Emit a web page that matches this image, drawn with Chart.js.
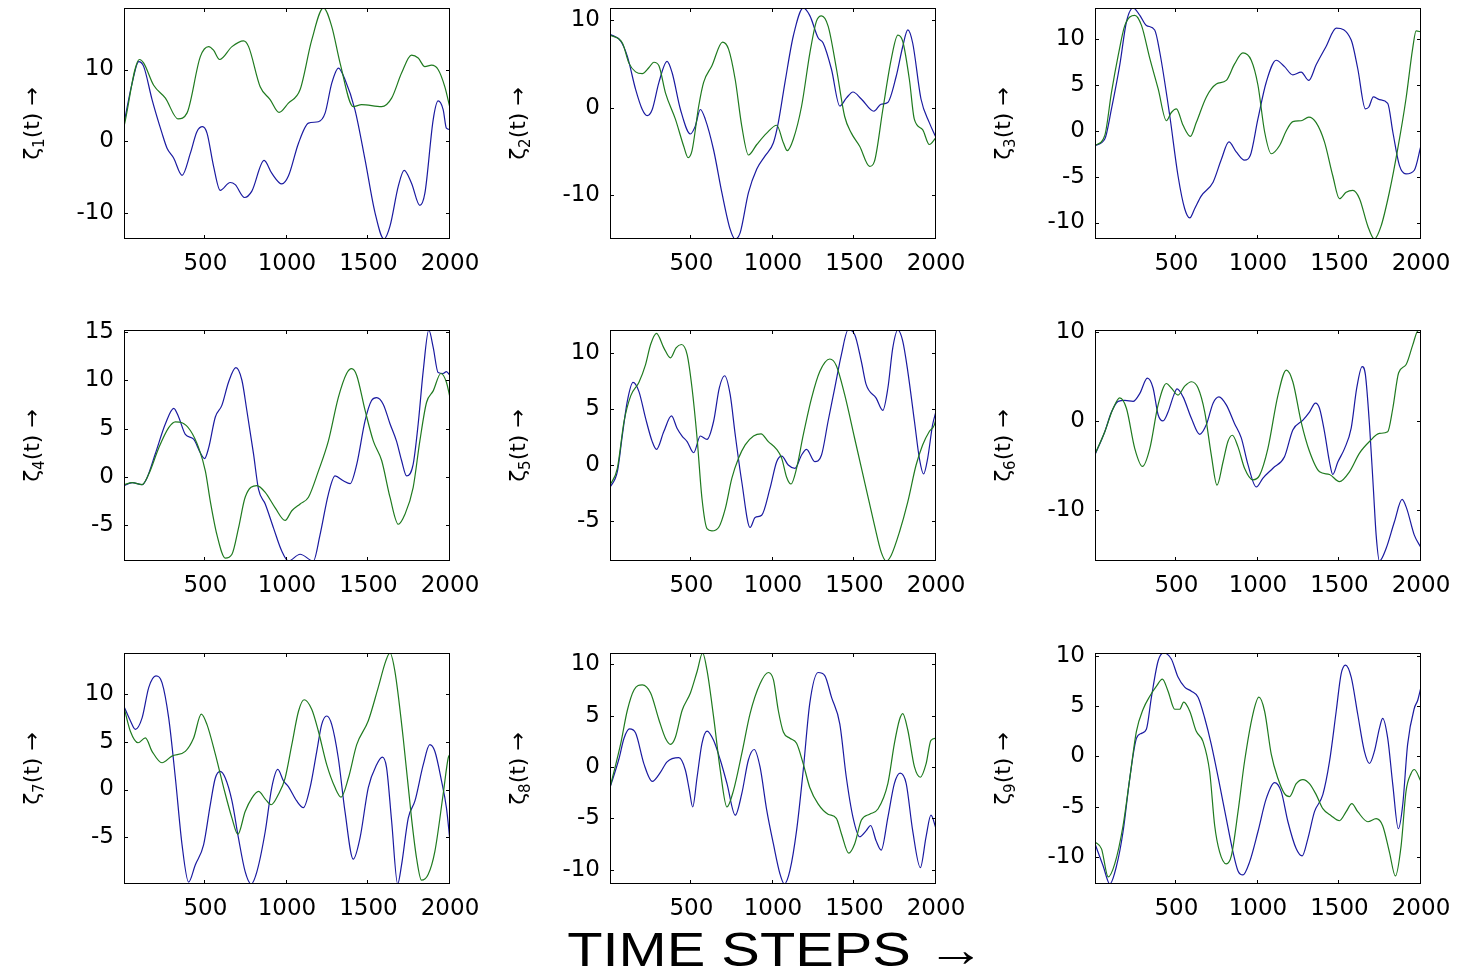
<!DOCTYPE html>
<html>
<head>
<meta charset="utf-8">
<script src="https://cdn.jsdelivr.net/npm/chart.js@4.4.1/dist/chart.umd.min.js"></script>
<style>
  html, body { margin: 0; padding: 0; background: #fff; }
  #page { position: relative; width: 1461px; height: 976px; overflow: hidden; background: #fff; }
  #page canvas { position: absolute; }
  #xtitle {
    position: absolute; left: 776px; top: 949px;
    font: 49px "Liberation Sans", Arial, sans-serif; color: #000;
    white-space: nowrap; transform: translate(-50%, -50%) scaleX(1.18);
  }
</style>
</head>
<body>
<div id="page">
  <div id="xtitle">TIME STEPS →</div>
</div>
<script>
// tick labels
const xTicks = [500, 1000, 1500, 2000];
const yTicks1 = [-10, 0, 10];
const yTicks2 = [-10, 0, 10];
const yTicks3 = [-10, -5, 0, 5, 10];
const yTicks4 = [-5, 0, 5, 10, 15];
const yTicks5 = [-5, 0, 5, 10];
const yTicks6 = [-10, 0, 10];
const yTicks7 = [-5, 0, 5, 10];
const yTicks8 = [-10, -5, 0, 5, 10];
const yTicks9 = [-10, -5, 0, 5, 10];

// [time step, value] (peaks, troughs and bends)
const zeta1Blue = [[1,2.5],[51,8.1],[91,11.1],[122,10.4],[173,5.8],[234,1.1],[265,-1.0],[306,-2.4],[357,-4.8],[408,-1.7],[448,1.3],[483,2.0],[510,1.1],[550,-3.5],[591,-6.9],[652,-5.8],[683,-6.1],[740,-7.9],[785,-7.0],[860,-2.7],[907,-4.5],[969,-6.0],[1009,-4.9],[1071,-0.3],[1132,2.5],[1193,2.7],[1234,3.9],[1275,8.1],[1316,10.2],[1356,8.6],[1417,4.4],[1479,-2.6],[1540,-10.0],[1595,-13.7],[1632,-11.9],[1683,-6.3],[1719,-4.1],[1764,-5.9],[1815,-9.0],[1846,-7.3],[1897,3.0],[1927,5.6],[1958,4.4],[1978,1.8],[2000,1.6]];
const zeta1Green = [[1,2.0],[96,11.4],[122,10.9],[183,7.8],[255,6.0],[332,3.1],[387,3.9],[469,11.8],[520,13.2],[550,12.7],[587,11.4],[663,13.2],[734,14.0],[765,13.2],[836,7.6],[897,5.8],[952,4.0],[1009,5.3],[1081,7.2],[1152,14.1],[1224,18.6],[1275,16.0],[1326,10.9],[1407,4.8],[1458,5.1],[1581,4.8],[1642,6.0],[1703,9.5],[1764,12.0],[1805,11.6],[1846,10.4],[1887,10.6],[1927,10.0],[1968,7.6],[2000,4.6]];

const zeta2Blue = [[1,8.4],[67,7.6],[107,5.9],[158,2.1],[199,-0.2],[229,-0.9],[260,-0.2],[301,2.9],[351,5.3],[382,4.0],[433,-0.2],[494,-3.0],[524,-2.1],[555,-0.2],[585,-1.3],[636,-4.8],[687,-9.7],[738,-13.9],[769,-15.0],[799,-14.3],[850,-9.7],[901,-7.0],[952,-5.5],[1003,-4.0],[1033,-1.7],[1074,2.9],[1125,8.2],[1186,11.4],[1227,10.5],[1277,8.0],[1308,7.4],[1359,4.4],[1410,0.2],[1450,1.1],[1491,1.8],[1542,1.0],[1619,-0.4],[1663,0.4],[1704,0.6],[1756,3.6],[1796,7.0],[1827,8.9],[1857,7.4],[1908,1.0],[1959,-1.7],[2000,-3.4]];
const zeta2Green = [[1,8.3],[77,7.4],[117,5.1],[158,4.1],[199,3.9],[240,4.6],[270,5.2],[301,4.8],[341,1.7],[402,-1.3],[453,-4.4],[480,-5.7],[504,-4.9],[545,0.2],[575,2.9],[626,4.8],[691,7.5],[728,6.7],[769,3.2],[809,-2.1],[850,-5.4],[901,-4.2],[962,-2.9],[1023,-2.0],[1064,-4.0],[1088,-4.9],[1125,-3.6],[1176,0.2],[1227,6.3],[1267,9.9],[1298,10.5],[1339,9.3],[1390,4.4],[1440,-1.0],[1481,-2.9],[1532,-4.4],[1593,-6.7],[1623,-6.1],[1674,-0.2],[1725,5.5],[1766,8.3],[1796,7.6],[1837,3.2],[1867,-1.3],[1918,-2.5],[1959,-4.2],[2000,-3.4]];

const zeta3Blue = [[1,-1.6],[61,-0.9],[102,2.4],[153,7.2],[194,11.9],[235,13.4],[276,12.6],[316,11.5],[367,11.0],[398,8.6],[459,1.7],[510,-4.9],[551,-8.5],[582,-9.5],[612,-8.5],[653,-7.1],[725,-5.6],[776,-3.1],[822,-1.2],[867,-2.3],[918,-3.2],[953,-2.7],[1000,1.3],[1051,5.3],[1112,7.7],[1163,7.0],[1214,6.1],[1265,6.4],[1312,5.5],[1357,7.2],[1418,9.2],[1480,11.2],[1572,9.9],[1612,6.8],[1659,2.4],[1680,2.6],[1708,3.7],[1745,3.4],[1796,3.0],[1827,-0.1],[1868,-3.8],[1908,-4.7],[1959,-4.3],[2000,-1.6]];
const zeta3Green = [[1,-1.6],[61,-0.5],[102,4.2],[143,8.2],[184,11.5],[245,12.6],[286,11.5],[337,7.9],[388,4.6],[439,1.1],[469,2.0],[500,2.4],[541,0.6],[586,-0.6],[622,0.9],[684,3.7],[745,5.1],[806,5.5],[857,7.3],[908,8.5],[959,7.7],[1000,5.0],[1041,-0.1],[1082,-2.5],[1133,-1.6],[1174,0.0],[1214,1.0],[1265,1.1],[1312,1.5],[1357,0.9],[1408,-1.2],[1459,-4.9],[1500,-7.4],[1541,-6.7],[1582,-6.5],[1623,-7.4],[1674,-10.4],[1714,-11.8],[1755,-10.4],[1806,-6.7],[1857,-2.0],[1908,3.5],[1949,9.0],[1970,10.9],[2000,10.8]];

const zeta4Blue = [[1,-0.9],[51,-0.6],[112,-0.8],[142,-0.1],[193,2.4],[255,5.5],[306,7.1],[336,6.2],[377,4.4],[428,3.9],[469,2.5],[495,1.9],[520,3.0],[561,6.2],[601,7.4],[642,9.8],[687,11.3],[724,10.0],[754,6.9],[795,2.4],[826,-1.3],[867,-2.8],[918,-5.3],[969,-7.7],[1009,-8.7],[1081,-8.0],[1162,-8.7],[1203,-6.0],[1254,-1.8],[1295,0.1],[1346,-0.4],[1387,-0.7],[1428,1.3],[1479,5.8],[1519,7.9],[1550,8.2],[1591,7.5],[1632,5.5],[1672,3.7],[1703,1.7],[1734,0.1],[1774,1.3],[1805,5.5],[1836,11.0],[1870,15.2],[1897,13.4],[1927,10.8],[1958,10.7],[1978,10.9],[2000,10.5]];
const zeta4Green = [[1,-0.8],[51,-0.6],[112,-0.8],[153,0.3],[214,3.0],[275,5.1],[316,5.7],[357,5.6],[408,4.8],[459,3.0],[500,0.6],[530,-2.5],[571,-6.0],[622,-8.4],[663,-8.0],[703,-5.3],[744,-2.1],[816,-0.9],[867,-1.6],[928,-3.2],[989,-4.5],[1030,-3.5],[1081,-2.8],[1132,-2.1],[1193,0.6],[1254,3.7],[1315,8.2],[1366,10.7],[1397,11.2],[1428,10.5],[1479,6.9],[1530,3.7],[1581,1.7],[1632,-2.1],[1683,-4.9],[1723,-3.9],[1774,-1.1],[1815,3.7],[1856,7.7],[1897,8.9],[1944,10.7],[1978,9.8],[2000,8.2]];

const zeta5Blue = [[1,-2.0],[46,-0.6],[77,2.7],[107,5.7],[142,7.4],[178,6.6],[219,4.2],[260,2.1],[286,1.4],[331,3.0],[378,4.4],[412,3.3],[443,2.6],[474,2.1],[514,1.1],[555,2.6],[596,2.3],[636,3.9],[671,6.9],[704,8.0],[738,6.3],[769,2.7],[809,-1.5],[860,-5.6],[891,-4.7],[931,-4.5],[982,-2.1],[1023,0.3],[1054,0.8],[1094,0.0],[1135,-0.3],[1176,0.9],[1206,1.4],[1257,0.3],[1298,0.9],[1338,3.9],[1379,6.9],[1420,9.9],[1461,12.1],[1501,11.7],[1542,9.3],[1572,7.2],[1633,6.0],[1674,4.9],[1705,6.9],[1735,10.5],[1766,12.1],[1796,11.1],[1827,8.4],[1868,3.9],[1898,0.6],[1924,-0.8],[1949,0.6],[1979,3.6],[2000,4.8]];
const zeta5Green = [[1,-1.8],[46,-0.3],[87,3.9],[128,6.2],[178,7.4],[219,9.0],[250,10.8],[286,11.8],[331,10.5],[372,9.6],[406,10.5],[439,10.8],[474,9.9],[504,6.9],[535,2.4],[565,-3.0],[596,-5.7],[626,-5.9],[667,-5.6],[708,-3.9],[748,-1.2],[789,0.6],[830,1.8],[881,2.6],[927,2.8],[972,2.1],[1023,1.4],[1054,0.6],[1084,-1.1],[1111,-1.7],[1145,-0.3],[1186,2.7],[1237,6.0],[1288,8.4],[1349,9.5],[1389,8.9],[1440,6.3],[1501,2.4],[1562,-1.5],[1623,-5.4],[1664,-7.8],[1695,-8.6],[1725,-8.1],[1776,-6.0],[1827,-3.3],[1878,0.0],[1918,1.8],[1959,3.0],[1990,3.6],[2000,4.2]];

const zeta6Blue = [[1,-3.8],[61,-1.2],[102,1.0],[143,2.2],[184,2.3],[235,2.2],[276,3.1],[322,4.8],[357,3.7],[388,0.7],[418,0.0],[449,1.0],[484,2.9],[504,3.6],[541,2.7],[592,0.3],[643,-1.5],[684,-0.4],[725,2.0],[761,2.7],[806,1.8],[857,-0.3],[898,-1.9],[939,-4.9],[990,-7.4],[1031,-6.4],[1092,-5.3],[1163,-4.0],[1214,-1.0],[1276,0.1],[1316,1.0],[1353,2.0],[1378,1.4],[1408,-1.2],[1439,-4.6],[1459,-6.0],[1490,-4.6],[1531,-3.1],[1572,-0.8],[1606,3.7],[1639,6.1],[1659,5.2],[1684,-0.4],[1708,-7.6],[1725,-12.8],[1745,-15.7],[1786,-14.3],[1837,-11.3],[1884,-8.8],[1912,-9.8],[1959,-12.8],[2000,-14.2]];
const zeta6Green = [[1,-3.7],[61,-1.2],[112,1.4],[153,2.6],[194,1.4],[245,-3.1],[292,-5.1],[337,-3.1],[388,1.8],[439,4.2],[469,3.7],[510,2.9],[551,3.9],[592,4.4],[633,3.7],[674,1.0],[714,-3.8],[749,-7.2],[786,-4.6],[816,-2.3],[843,-1.6],[878,-2.9],[918,-5.3],[969,-6.6],[1010,-6.1],[1061,-3.1],[1123,2.9],[1174,5.7],[1214,4.4],[1265,-0.1],[1316,-3.4],[1378,-5.7],[1439,-6.0],[1500,-6.8],[1561,-5.7],[1623,-3.6],[1684,-2.3],[1745,-1.4],[1796,-1.2],[1827,1.4],[1863,5.4],[1908,6.3],[1949,8.5],[1980,10.1],[2000,10.2]];

const zeta7Blue = [[1,8.7],[40,7.2],[71,6.3],[112,7.5],[153,10.7],[197,11.9],[234,11.2],[275,7.5],[316,1.2],[357,-5.8],[397,-9.7],[438,-7.9],[489,-5.8],[530,-1.6],[561,1.2],[591,1.9],[622,1.2],[663,-1.2],[703,-5.1],[744,-8.6],[781,-9.9],[816,-8.6],[867,-4.4],[907,0.2],[944,2.1],[979,0.9],[1009,0.3],[1060,-1.2],[1101,-1.9],[1142,0.2],[1183,4.0],[1213,6.8],[1244,7.7],[1275,6.8],[1315,3.3],[1356,-2.3],[1407,-7.3],[1448,-5.1],[1499,0.2],[1550,2.6],[1585,3.4],[1611,2.3],[1642,-3.3],[1679,-9.9],[1703,-7.9],[1744,-3.0],[1785,-1.2],[1836,2.6],[1876,4.7],[1907,4.0],[1948,0.9],[1978,-1.9],[2000,-5.4]];
const zeta7Green = [[1,8.6],[40,6.1],[87,4.9],[132,5.4],[173,4.0],[234,2.8],[295,3.5],[377,4.0],[428,5.4],[475,7.9],[510,6.8],[561,3.7],[612,0.2],[663,-3.0],[699,-4.7],[744,-2.3],[785,-0.9],[826,-0.2],[867,-1.0],[903,-1.6],[948,-0.5],[989,1.2],[1030,4.7],[1071,8.2],[1105,9.4],[1152,8.4],[1193,6.1],[1244,2.6],[1295,0.2],[1332,-0.8],[1377,1.2],[1428,4.7],[1499,7.2],[1560,10.7],[1607,13.5],[1632,14.3],[1662,12.4],[1713,5.4],[1764,-3.0],[1795,-7.2],[1825,-9.5],[1866,-8.9],[1907,-6.5],[1958,-0.5],[1989,3.3],[2000,3.7]];

const zeta8Blue = [[1,-2.0],[56,0.8],[87,2.8],[121,3.7],[158,3.3],[209,0.3],[260,-1.4],[311,-0.5],[351,0.5],[423,0.9],[463,-0.3],[488,-2.3],[508,-3.9],[535,-1.0],[565,2.3],[596,3.5],[636,2.6],[677,0.7],[718,-1.6],[769,-4.7],[809,-2.6],[850,0.7],[885,1.7],[921,0.0],[962,-4.2],[1003,-7.5],[1043,-10.4],[1070,-11.4],[1104,-10.1],[1145,-6.2],[1186,-0.3],[1226,6.2],[1277,9.2],[1318,8.9],[1359,6.8],[1410,4.2],[1450,-1.0],[1491,-4.9],[1532,-6.8],[1572,-6.2],[1599,-5.7],[1633,-7.2],[1664,-8.1],[1705,-4.9],[1745,-1.6],[1780,-0.6],[1817,-1.6],[1857,-6.2],[1904,-9.8],[1939,-6.8],[1969,-4.7],[2000,-6.0]];
const zeta8Green = [[1,-2.0],[67,2.3],[107,5.5],[148,7.5],[199,8.0],[250,7.2],[301,4.6],[341,2.8],[372,2.2],[402,2.9],[443,5.5],[494,7.2],[535,9.3],[569,11.1],[596,9.4],[636,4.9],[677,-0.3],[718,-3.9],[758,-2.3],[809,1.3],[860,5.2],[921,8.1],[972,9.2],[1003,8.5],[1033,5.5],[1064,3.4],[1104,2.8],[1145,2.3],[1186,0.3],[1226,-2.0],[1277,-3.6],[1338,-4.6],[1389,-5.0],[1420,-6.5],[1465,-8.4],[1501,-7.5],[1542,-5.2],[1593,-4.6],[1644,-4.1],[1705,-1.6],[1745,2.3],[1776,4.6],[1796,5.2],[1827,3.6],[1868,0.0],[1904,-1.0],[1939,0.3],[1969,2.6],[2000,2.8]];

const zeta9Blue = [[1,-8.7],[51,-10.9],[92,-12.7],[133,-10.9],[173,-7.5],[214,-2.2],[255,1.8],[286,2.3],[316,2.7],[347,5.9],[388,9.5],[422,10.3],[469,9.7],[510,7.9],[551,6.9],[592,6.5],[633,5.9],[674,3.8],[714,1.2],[765,-2.8],[806,-6.2],[847,-9.5],[878,-11.4],[908,-11.8],[949,-10.5],[1000,-7.5],[1051,-4.2],[1102,-2.6],[1143,-3.5],[1184,-6.5],[1235,-9.2],[1271,-9.9],[1306,-8.2],[1347,-5.5],[1398,-3.8],[1439,-0.5],[1480,4.5],[1510,8.2],[1537,9.1],[1572,7.9],[1612,4.2],[1653,0.5],[1684,-0.7],[1714,0.5],[1745,2.8],[1765,3.8],[1796,1.8],[1827,-2.8],[1861,-7.2],[1888,-4.8],[1918,1.2],[1959,4.8],[1980,5.6],[2000,6.9]];
const zeta9Green = [[1,-8.5],[41,-9.2],[82,-12.0],[122,-10.7],[173,-6.9],[214,-2.2],[255,2.5],[296,4.7],[337,6.0],[378,7.0],[414,7.7],[449,6.5],[490,4.7],[520,4.7],[545,5.4],[582,4.5],[622,2.5],[663,1.5],[704,-1.5],[735,-6.9],[765,-9.5],[806,-10.7],[837,-9.9],[878,-5.5],[918,-0.5],[969,4.2],[1006,5.9],[1041,4.5],[1082,0.2],[1123,-2.2],[1163,-3.7],[1194,-4.0],[1235,-2.7],[1276,-2.3],[1316,-2.7],[1357,-3.8],[1398,-5.2],[1449,-5.9],[1500,-6.4],[1541,-5.5],[1576,-4.7],[1612,-5.5],[1674,-6.5],[1725,-6.2],[1765,-6.9],[1806,-9.5],[1843,-11.9],[1878,-8.9],[1908,-3.5],[1939,-1.7],[1959,-1.3],[2000,-2.5]];

const panels = [
  { n: 1, blue: zeta1Blue, green: zeta1Green, yTicks: yTicks1 },
  { n: 2, blue: zeta2Blue, green: zeta2Green, yTicks: yTicks2 },
  { n: 3, blue: zeta3Blue, green: zeta3Green, yTicks: yTicks3 },
  { n: 4, blue: zeta4Blue, green: zeta4Green, yTicks: yTicks4 },
  { n: 5, blue: zeta5Blue, green: zeta5Green, yTicks: yTicks5 },
  { n: 6, blue: zeta6Blue, green: zeta6Green, yTicks: yTicks6 },
  { n: 7, blue: zeta7Blue, green: zeta7Green, yTicks: yTicks7 },
  { n: 8, blue: zeta8Blue, green: zeta8Green, yTicks: yTicks8 },
  { n: 9, blue: zeta9Blue, green: zeta9Green, yTicks: yTicks9 },
];

// layout of the 3x3 grid (plot box corners in page pixels)
const COLS = [124, 610, 1095];
const ROWS = [8, 330, 653];
const PLOT_W = 326, PLOT_H = 231;
const PAD_LEFT = 124, PAD_TOP = 20, PAD_RIGHT = 40, PAD_BOTTOM = 45;
const BLUE = '#1a1aa0';
const GREEN = '#1f7a1f';
const FONT = '"DejaVu Sans", "Liberation Sans", sans-serif';

Chart.defaults.font.family = FONT;
Chart.defaults.color = '#000';

// box around the axes plus inward tick marks on all four sides
const boxPlugin = {
  id: 'box',
  afterDatasetsDraw(chart) {
    const { ctx, chartArea: a } = chart;
    const xs = chart.scales.x, ys = chart.scales.y;
    const len = 4;
    ctx.save();
    ctx.strokeStyle = '#000';
    ctx.lineWidth = 1;
    ctx.beginPath();
    xs.ticks.forEach(t => {
      const px = Math.round(xs.getPixelForValue(t.value)) - 0.5;
      ctx.moveTo(px, a.bottom); ctx.lineTo(px, a.bottom - len);
      ctx.moveTo(px, a.top); ctx.lineTo(px, a.top + len);
    });
    ys.ticks.forEach(t => {
      const py = Math.round(ys.getPixelForValue(t.value)) + 0.5;
      ctx.moveTo(a.left, py); ctx.lineTo(a.left + len, py);
      ctx.moveTo(a.right, py); ctx.lineTo(a.right - len, py);
    });
    ctx.stroke();
    ctx.strokeRect(a.left + 0.5, a.top + 0.5, a.right - a.left - 1, a.bottom - a.top - 1);
    ctx.restore();
  }
};

// rotated "ζn(t) →" label with a real subscript
function zetaLabel(n) {
  return {
    id: 'zetaLabel',
    afterDraw(chart) {
      const { ctx, chartArea: a } = chart;
      const main = '22px ' + FONT, sub = '15px ' + FONT;
      ctx.save();
      ctx.translate(a.left - 93, (a.top + a.bottom) / 2);
      ctx.rotate(-Math.PI / 2);
      ctx.fillStyle = '#000';
      ctx.textBaseline = 'alphabetic';
      ctx.font = main;
      const w1 = ctx.measureText('ζ').width;
      const w3 = ctx.measureText('(t) →').width;
      ctx.font = sub;
      const w2 = ctx.measureText(String(n)).width;
      let x = -(w1 + w2 + w3) / 2;
      ctx.font = main;
      ctx.fillText('ζ', x, 8);
      x += w1;
      ctx.font = sub;
      ctx.fillText(String(n), x, 13);
      x += w2;
      ctx.font = main;
      ctx.fillText('(t) →', x, 8);
      ctx.restore();
    }
  };
}

const page = document.getElementById('page');

panels.forEach((p, i) => {
  const col = i % 3, row = Math.floor(i / 3);
  const canvas = document.createElement('canvas');
  canvas.width = PAD_LEFT + PLOT_W + PAD_RIGHT;
  canvas.height = PAD_TOP + PLOT_H + PAD_BOTTOM;
  canvas.style.left = (COLS[col] - PAD_LEFT) + 'px';
  canvas.style.top = (ROWS[row] - PAD_TOP) + 'px';
  page.appendChild(canvas);

  const values = p.blue.concat(p.green).map(d => d[1]);
  const yTicks = p.yTicks;

  new Chart(canvas, {
    type: 'line',
    data: {
      datasets: [
        { data: p.green, borderColor: GREEN },
        { data: p.blue, borderColor: BLUE },
      ]
    },
    options: {
      responsive: false,
      animation: false,
      events: [],
      layout: { padding: { left: 0, top: PAD_TOP, right: PAD_RIGHT, bottom: 0 } },
      plugins: { legend: { display: false }, tooltip: { enabled: false } },
      elements: {
        point: { radius: 0 },
        line: { borderWidth: 1.2, cubicInterpolationMode: 'monotone', fill: false }
      },
      scales: {
        x: {
          type: 'linear',
          min: 1,
          max: 2000,
          grid: { display: false },
          border: { display: false },
          afterBuildTicks: s => { s.ticks = xTicks.map(v => ({ value: v })); },
          afterFit: s => { s.height = PAD_BOTTOM; s.paddingLeft = 0; s.paddingRight = 0; },
          ticks: { font: { size: 23 }, padding: 3, maxRotation: 0, autoSkip: false, callback: v => String(v) }
        },
        y: {
          type: 'linear',
          min: Math.min(...values),
          max: Math.max(...values),
          grid: { display: false },
          border: { display: false },
          afterBuildTicks: s => { s.ticks = yTicks.map(v => ({ value: v })); },
          afterFit: s => { s.width = PAD_LEFT; s.paddingTop = 0; s.paddingBottom = 0; },
          ticks: { font: { size: 23 }, padding: 2, autoSkip: false, callback: v => String(v) }
        }
      }
    },
    plugins: [boxPlugin, zetaLabel(p.n)]
  });
});
</script>
</body>
</html>
